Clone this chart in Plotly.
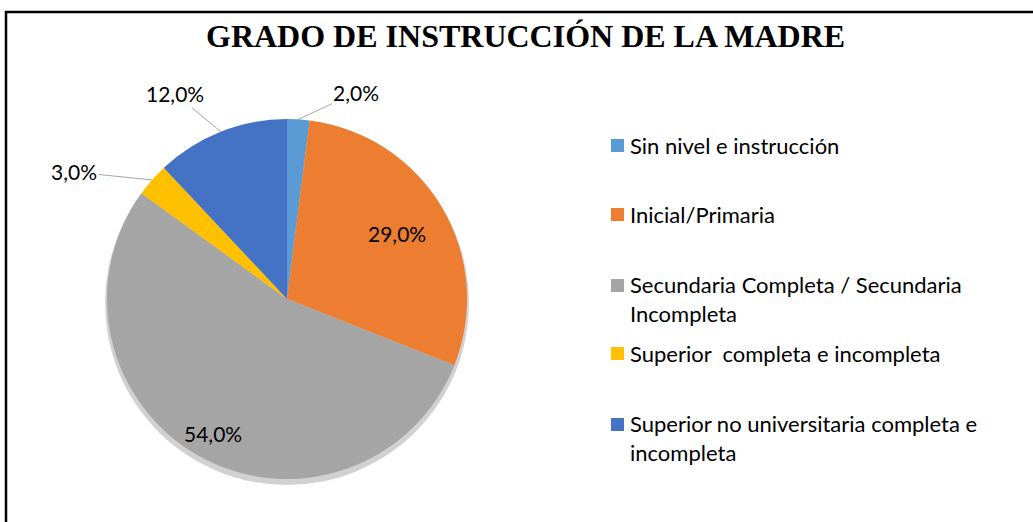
import math

import plotly.graph_objects as go

W, H = 1033, 522

categories = [
    "Sin nivel e instrucción",
    "Inicial/Primaria",
    "Secundaria Completa / Secundaria<br>Incompleta",
    "Superior  completa e incompleta",
    "Superior no universitaria completa e<br>incompleta",
]
values = [2.0, 29.0, 54.0, 3.0, 12.0]
colors = ["#5B9BD5", "#ED7D31", "#A5A5A5", "#FFC000", "#4472C4"]

TITLE = "GRADO DE INSTRUCCIÓN DE LA MADRE"
FONT = "Lato"

# pie geometry in pixels
cx, cy, R = 287, 299, 180


def px(x):
    return x / W


def py(y):
    return 1 - y / H


fig = go.Figure()
fig.add_trace(go.Pie(
    labels=[c.replace("<br>", " ") for c in categories],
    values=values,
    sort=False,
    direction="clockwise",
    rotation=0,
    marker=dict(colors=colors, line=dict(color="white", width=0)),
    textinfo="none",
    hoverinfo="label+percent",
    showlegend=False,
    domain=dict(x=[px(cx - R), px(cx + R)], y=[py(cy + R), py(cy - R)]),
))

# data labels: (inside?, radial factor, pixel offset of text from edge point)
label_style = [
    ("out", 1.0, (58, -27)),
    ("in", 0.71, None),
    ("in", 0.85, None),
    ("out", 1.0, (-78, -8)),
    ("out", 1.0, (-46, -38)),
]
total = sum(values)
cum = 0.0
annotations = []
for v, (kind, f, off) in zip(values, label_style):
    mid = (cum + v / 2) / total * 2 * math.pi
    cum += v
    x = cx + f * R * math.sin(mid)
    y = cy - f * R * math.cos(mid)
    txt = f"{v:.1f}".replace(".", ",") + "%"
    common = dict(x=px(x), y=py(y), xref="paper", yref="paper", text=txt,
                  xanchor="center", yanchor="middle",
                  font=dict(family=FONT, size=21, color="#000000"))
    if kind == "in":
        annotations.append(dict(showarrow=False, **common))
    else:
        annotations.append(dict(showarrow=True, arrowhead=0, arrowwidth=1, arrowcolor="#A6A6A6",
                                ax=off[0], ay=off[1], standoff=0, **common))

# legend drawn by hand (Excel-like spacing)
leg_y = [145, 214, 299, 353, 438]
shapes = []
for name, col, y in zip(categories, colors, leg_y):
    n_lines = name.count("<br>") + 1
    top = y - (n_lines - 1) * 14
    shapes.append(dict(type="rect", xref="paper", yref="paper",
                       x0=px(611), x1=px(624), y0=py(top + 7), y1=py(top - 6),
                       fillcolor=col, line=dict(width=0)))
    annotations.append(dict(x=px(628), y=py(y), xref="paper", yref="paper", text=name,
                            showarrow=False, xanchor="left", yanchor="middle", align="left",
                            font=dict(family=FONT, size=22, color="#000000")))

annotations.append(dict(x=px(525), y=py(36), xref="paper", yref="paper", text=f"<b>{TITLE}</b>",
                        showarrow=False, xanchor="center", yanchor="middle",
                        font=dict(family="Liberation Serif", size=32, color="#000000")))

# soft shadow under the pie
shapes.append(dict(type="circle", xref="paper", yref="paper", layer="below",
                   x0=px(cx - R - 2), x1=px(cx + R + 2), y0=py(cy + R + 6), y1=py(cy - R + 2),
                   fillcolor="rgba(0,0,0,0.18)", line=dict(width=0)))
# chart frame
shapes.append(dict(type="rect", xref="paper", yref="paper",
                   x0=px(6), x1=px(W + 10), y0=py(H + 10), y1=py(12),
                   line=dict(color="#000000", width=2.5), fillcolor="rgba(0,0,0,0)"))

fig.update_layout(
    width=W, height=H,
    margin=dict(l=0, r=0, t=0, b=0),
    paper_bgcolor="white",
    plot_bgcolor="white",
    annotations=annotations,
    shapes=shapes,
)

fig.write_html("out.html", config={"displayModeBar": False},
               post_script="document.body.style.margin='0';")
